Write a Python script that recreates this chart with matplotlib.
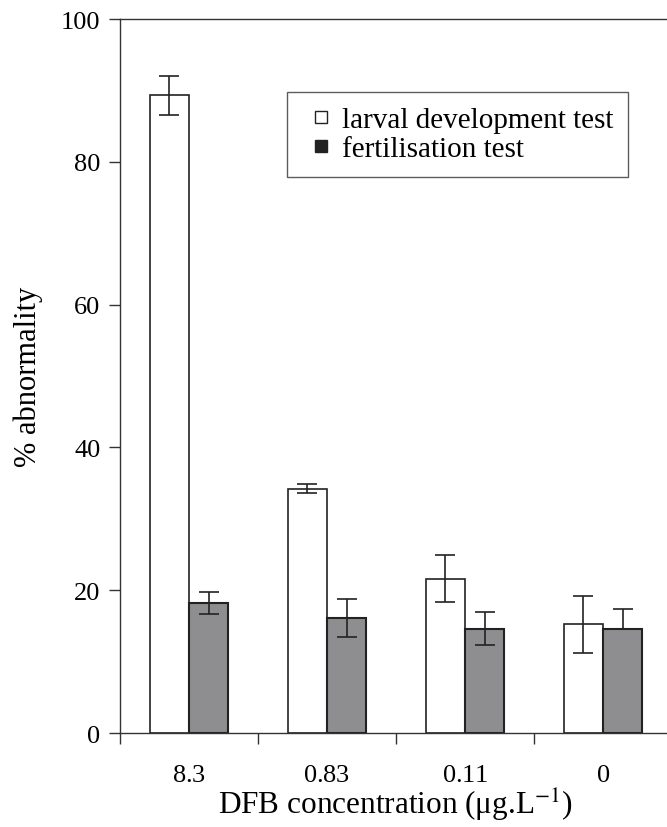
import numpy as np
import matplotlib.pyplot as plt
from matplotlib.lines import Line2D

plt.rcParams['font.family'] = ['Liberation Serif', 'DejaVu Serif']
plt.rcParams['mathtext.fontset'] = 'stix'

# data
categories = ['8.3', '0.83', '0.11', '0']
larval = [89.3, 34.2, 21.6, 15.2]
larval_err = [2.75, 0.65, 3.3, 4.0]
fert = [18.2, 16.1, 14.6, 14.6]
fert_err_low = [1.5, 2.7, 2.3, 0.0]
fert_err_high = [1.5, 2.7, 2.3, 2.8]
series_names = ['larval development test', 'fertilisation test']

x = np.arange(len(categories))
w = 0.285

fig = plt.figure(figsize=(6.67, 8.28), dpi=100)
ax = fig.add_axes([0.18, 0.1135, 0.8275, 0.8623])

ebar = dict(ecolor='#222222', elinewidth=1.2, capsize=7, capthick=1.2)
ax.bar(x - w / 2, larval, w, color='white', edgecolor='#222222', linewidth=1.2,
       yerr=larval_err, error_kw=ebar, zorder=2)
ax.bar(x + w / 2, fert, w, color='#8e8e90', edgecolor='#222222', linewidth=1.5,
       yerr=[fert_err_low, fert_err_high], error_kw=ebar, zorder=2)

ax.set_xlim(-0.5, 3.5)
ax.set_ylim(0, 100)
ax.set_yticks([0, 20, 40, 60, 80, 100])
ax.set_xticks(x)
# mathregular keeps the label box tight to the digits
ax.set_xticklabels([r'$\mathregular{%s}$' % c for c in categories])
ax.set_xticks(np.arange(-0.5, 3.6, 1), minor=True)
ax.tick_params(axis='x', which='major', length=0, pad=22, labelsize=19)
ax.tick_params(axis='x', which='minor', length=8, width=1, direction='out', color='#333333')
ax.tick_params(axis='y', length=8, width=1, direction='out', labelsize=19, pad=6, color='#333333')

for s in ['left', 'bottom', 'top']:
    ax.spines[s].set_linewidth(1.0)
    ax.spines[s].set_color('#333333')
ax.spines['right'].set_visible(False)

ax.set_ylabel('% abnormality', fontsize=22, labelpad=13)
ax.set_xlabel('DFB concentration (μg.L$^{-1}$)', fontsize=22.5, labelpad=0.5)

# legend with small square markers
handles = [
    Line2D([], [], ls='none', marker='s', markersize=9, markerfacecolor='white',
           markeredgecolor='#222222', markeredgewidth=1.0),
    Line2D([], [], ls='none', marker='s', markersize=9, markerfacecolor='#222222',
           markeredgecolor='#222222', markeredgewidth=1.0),
]
leg = ax.legend(handles, series_names, loc='upper left', bbox_to_anchor=(0.3025, 0.898),
                fontsize=21, frameon=True, fancybox=False, edgecolor='#333333',
                handlelength=1.35, handletextpad=0.05, borderpad=0.5,
                labelspacing=0.1, borderaxespad=0)
leg.get_frame().set_linewidth(1.0)

fig.savefig('out.png', dpi=100)
